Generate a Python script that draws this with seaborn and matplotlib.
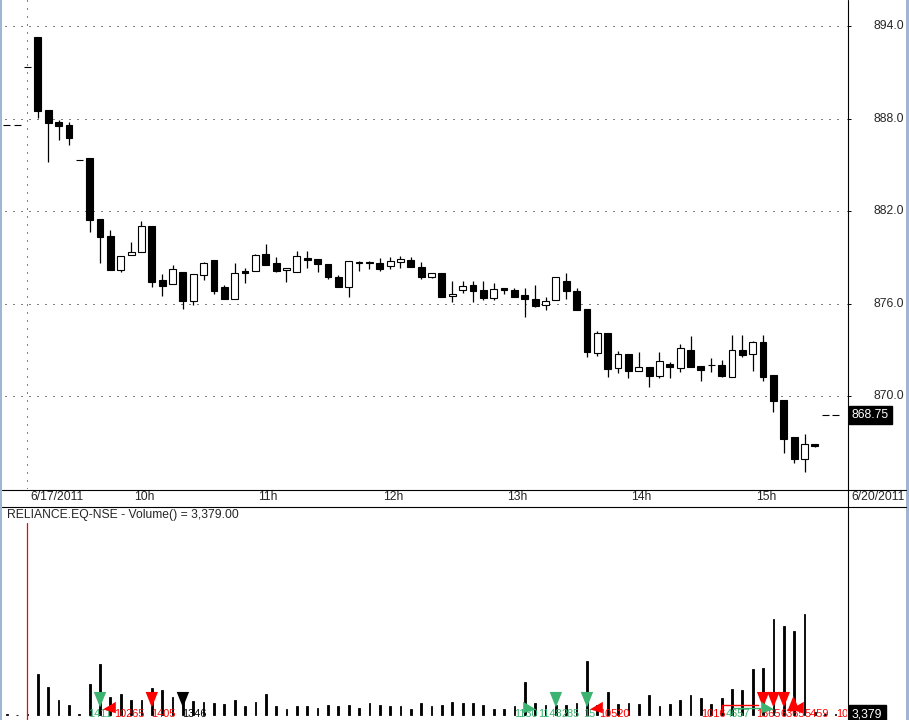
import matplotlib
matplotlib.use("Agg")
import matplotlib.pyplot as plt
import matplotlib.transforms as mtransforms
from matplotlib.lines import Line2D
from matplotlib.patches import Rectangle
import pandas as pd
import seaborn as sns

# 5-minute bars of RELIANCE.EQ-NSE, session 6/17/2011 (bar 0 = first bar of the day)
bar_idx = list(range(-2, 79))
opens = [887.58, 887.58, 891.34, 893.29, 888.55, 887.77, 887.58, 885.31, 885.44, 881.48,
         880.38, 878.17, 879.15, 879.34, 881.03, 877.53, 877.27, 878.04, 876.16, 877.85,
         878.82, 877.07, 876.29, 878.11, 878.11, 879.21, 878.63, 878.17, 878.04, 878.95,
         878.89, 878.56, 877.72, 877.07, 878.63, 878.63, 878.63, 878.43, 878.69, 878.82,
         878.37, 877.72, 877.98, 876.49, 876.88, 877.20, 876.88, 876.36, 877.01, 876.88,
         876.55, 876.29, 875.90, 876.23, 877.46, 876.81, 875.64, 872.79, 874.09, 871.82,
         872.73, 871.62, 871.88, 871.30, 872.08, 871.82, 872.99, 871.95, 872.01, 872.01,
         871.23, 872.99, 872.73, 873.50, 871.36, 869.74, 867.34, 865.92, 866.89, 868.75,
         868.75]
highs = [887.58, 887.58, 891.34, 893.29, 888.55, 887.90, 887.77, 885.31, 885.44, 881.48,
         880.77, 879.08, 879.99, 881.35, 881.03, 877.91, 878.50, 878.04, 877.91, 878.69,
         878.82, 877.20, 878.63, 878.30, 879.21, 879.86, 879.02, 878.30, 879.41, 879.41,
         878.89, 878.56, 877.85, 878.76, 878.76, 878.76, 878.95, 879.02, 879.08, 879.02,
         878.69, 877.98, 877.98, 877.46, 877.46, 877.46, 877.46, 877.33, 877.01, 877.01,
         877.01, 877.20, 876.42, 877.72, 877.98, 877.01, 875.64, 874.22, 874.09, 872.92,
         872.73, 872.86, 871.88, 872.86, 872.21, 873.37, 873.89, 871.95, 872.47, 872.34,
         873.96, 873.96, 873.57, 873.96, 871.36, 869.74, 867.34, 867.54, 866.89, 868.75,
         868.75]
lows = [887.58, 887.58, 891.34, 888.03, 885.18, 886.61, 886.28, 885.31, 880.64, 878.63,
        878.17, 878.04, 879.15, 879.34, 877.07, 876.49, 877.27, 875.64, 875.90, 877.53,
        876.62, 876.29, 876.29, 877.33, 878.11, 878.50, 878.04, 877.40, 878.04, 878.30,
        878.04, 877.59, 877.07, 876.42, 878.11, 878.24, 878.11, 878.24, 878.30, 878.37,
        877.59, 877.65, 876.42, 876.10, 876.68, 876.10, 876.23, 876.23, 876.62, 876.42,
        875.13, 875.77, 875.58, 876.23, 876.29, 875.58, 872.53, 872.60, 871.23, 871.49,
        871.17, 871.62, 870.59, 871.17, 871.17, 871.56, 871.88, 870.97, 871.56, 871.23,
        871.23, 872.53, 871.62, 870.97, 868.96, 866.30, 865.66, 865.07, 866.69, 868.75,
        868.75]
closes = [887.58, 887.58, 891.34, 888.49, 887.71, 887.51, 886.74, 885.31, 881.42, 880.31,
          878.17, 879.08, 879.34, 881.03, 877.40, 877.14, 878.24, 876.16, 877.91, 878.63,
          876.81, 876.29, 877.98, 877.98, 879.15, 878.50, 878.11, 878.30, 879.08, 878.82,
          878.56, 877.72, 877.07, 878.76, 878.63, 878.63, 878.24, 878.76, 878.89, 878.37,
          877.72, 877.98, 876.42, 876.62, 877.14, 876.81, 876.36, 876.94, 876.88, 876.42,
          876.29, 875.84, 876.16, 877.72, 876.81, 875.58, 872.86, 874.09, 871.75, 872.73,
          871.62, 871.88, 871.30, 872.27, 871.88, 873.12, 871.88, 871.69, 872.01, 871.30,
          872.99, 872.66, 873.50, 871.23, 869.68, 867.21, 865.92, 866.89, 866.76, 868.75,
          868.75]
volumes = [3000, 0, 3500, 139000, 95000, 51000, 34000, 3000, 105000, 173000,
           61000, 71000, 51000, 51000, 92000, 85000, 61000, 48000, 48000, 44000,
           41000, 37000, 51000, 31000, 44000, 71000, 31000, 20000, 31000, 31000,
           24000, 34000, 31000, 34000, 24000, 41000, 34000, 31000, 31000, 20000,
           41000, 31000, 34000, 44000, 41000, 41000, 34000, 20000, 20000, 31000,
           112000, 41000, 34000, 34000, 34000, 41000, 184000, 34000, 78000, 37000,
           41000, 37000, 68000, 31000, 37000, 51000, 68000, 58000, 37000, 58000,
           88000, 85000, 156000, 160000, 326000, 303000, 286000, 343000, 10000, 2500,
           3379]

symbol = "RELIANCE.EQ-NSE"
next_date = "6/20/2011"
time_tick_idx = [0, 10, 22, 34, 46, 58, 70]
time_tick_labels = ["6/17/2011", "10h", "11h", "12h", "13h", "14h", "15h"]
price_ticks = [894.0, 888.0, 882.0, 876.0, 870.0]

# trade signals drawn at the foot of the volume pane
GREEN, RED = "#3cb371", "#ff0000"
down_idx = [7, 12, 15, 51, 54, 71, 72, 73]
down_col = [GREEN, RED, "black", GREEN, GREEN, RED, RED, RED]
left_idx = [8.0, 55.0, 74.4]
right_idx = [48.3, 71.3]
up_idx = [73.9]
sig_text = ["1411", "10265", "1405", "1346", "1130", "1148", "285", "15", "10520",
            "1016", "4657", "1365", "6365", "5459", "10"]
sig_text_idx = [5.9, 8.4, 11.9, 14.9, 47.0, 49.3, 51.5, 53.6, 55.2,
                65.0, 67.4, 70.3, 72.65, 75.0, 78.1]
sig_text_col = [GREEN, RED, RED, "black", GREEN, GREEN, GREEN, GREEN, RED,
                RED, GREEN, RED, RED, RED, RED]
trade_x0 = [67.0, 68.1]
trade_x1 = [70.5, 70.7]
trade_col = [RED, GREEN]

bars = pd.DataFrame({"bar": bar_idx, "open": opens, "high": highs,
                     "low": lows, "close": closes, "volume": volumes})

sns.set_style("white")
plt.rcParams["font.family"] = ["Liberation Sans", "DejaVu Sans"]

W, H = 909, 720
fig = plt.figure(figsize=(W / 100, H / 100), dpi=100)
fig.patch.set_facecolor("white")

# pixel layout
X0, X1 = 2, 847
ax_price = fig.add_axes([X0 / W, 1 - 489 / H, (X1 - X0) / W, 489 / H])
ax_vol = fig.add_axes([X0 / W, 0, (X1 - X0) / W, (720 - 506) / H])

xlim = (-2.46, 79.10)
FS = 8.7
SFS = 7.9

# ---- price pane -------------------------------------------------------
for p in price_ticks:
    ax_price.axhline(p, xmin=0.004, xmax=0.997, color="black", lw=0.72,
                     ls=(0, (1, 7)), zorder=1)
ax_price.axvline(-0.05, color="black", lw=0.72, ls=(0, (1, 7)), zorder=1)

ax_price.vlines(bars["bar"], bars["low"], bars["high"], color="black", lw=0.9, zorder=2)
body_bottom = bars[["open", "close"]].min(axis=1)
body_height = (bars["close"] - bars["open"]).abs().clip(lower=0.03)
body_color = ["black" if c < o else "white" for o, c in zip(bars["open"], bars["close"])]
flat = (bars["high"] - bars["low"]) < 0.01
body_color = ["black" if f else c for f, c in zip(flat, body_color)]
ax_price.bar(bars["bar"], body_height, bottom=body_bottom, width=0.66,
             color=body_color, edgecolor="black", linewidth=0.8, zorder=3)

ax_price.set_xlim(*xlim)
ax_price.set_ylim(863.968, 895.687)
for s in ax_price.spines.values():
    s.set_visible(False)
ax_price.set_xticks(time_tick_idx)
ax_price.set_yticks(price_ticks)
ax_price.tick_params(axis="x", length=4.3, width=0.72, direction="out",
                     labelbottom=False, color="black")
ax_price.tick_params(axis="y", left=False, right=True, labelleft=False,
                     labelright=False, length=2.9, width=0.72, direction="out",
                     color="black")
ax_price.set_xlabel("")
ax_price.set_ylabel("")

xtrans = mtransforms.blended_transform_factory(ax_price.transData, ax_price.transAxes)
xlab_trans = mtransforms.offset_copy(xtrans, fig=fig, x=3, y=0, units="dots")
for t, lab in zip(time_tick_idx, time_tick_labels):
    ax_price.text(t, (489 - 497) / 489, lab, transform=xlab_trans, ha="left",
                  va="center", fontsize=FS, clip_on=False)

ytrans = mtransforms.blended_transform_factory(ax_price.transAxes, ax_price.transData)
ylab_trans = mtransforms.offset_copy(ytrans, fig=fig, x=57, y=0, units="dots")
for p in price_ticks:
    ax_price.text(1.0, p, f"{p:.1f}", transform=ylab_trans, ha="right",
                  va="center", fontsize=FS, clip_on=False)
box_trans = mtransforms.offset_copy(ytrans, fig=fig, x=5, y=0, units="dots")
ax_price.text(1.0, closes[-1], f"{closes[-1]:.2f}", transform=box_trans, ha="left",
              va="center", fontsize=FS, color="white", clip_on=False,
              bbox=dict(facecolor="black", edgecolor="black", pad=2.2))

# ---- volume pane ------------------------------------------------------
sns.barplot(data=bars, x="bar", y="volume", native_scale=True, width=0.17,
            color="black", saturation=1, errorbar=None, ax=ax_vol,
            edgecolor="black", linewidth=0.6, zorder=2)
ax_vol.axvline(-0.05, ymin=0, ymax=(720 - 523) / (720 - 506), color="red", lw=0.9)

ax_vol.scatter(down_idx, [52000] * len(down_idx), c=down_col, s=125,
               marker=[(-0.8, 1), (0.8, 1), (0, -1)], linewidths=0, zorder=4)
ax_vol.scatter(left_idx, [27000] * len(left_idx), c=RED, s=120,
               marker=[(-1, -0.25), (0.7, 0.75), (0.7, -0.75)], linewidths=0, zorder=4)
ax_vol.scatter(right_idx, [27000] * len(right_idx), c=GREEN, s=120,
               marker=[(1, -0.25), (-0.7, 0.75), (-0.7, -0.75)], linewidths=0, zorder=4)
ax_vol.scatter(up_idx, [40000] * len(up_idx), c=RED, s=125,
               marker=[(-0.8, -1), (0.8, -1), (0, 1)], linewidths=0, zorder=4)
for a, b, c in zip(trade_x0, trade_x1, trade_col):
    lvl = 34000 if c == RED else 24000
    ax_vol.plot([a, b], [lvl, lvl], color=c, lw=1.0, zorder=3)
ax_vol.plot([trade_x0[0], trade_x0[0]], [34000, 10000], color=RED, lw=1.0, zorder=3)
for t, lab, c in zip(sig_text_idx, sig_text, sig_text_col):
    ax_vol.text(t, 22000, lab, color=c, fontsize=SFS, ha="left", va="top",
                zorder=3, clip_on=True)

ax_vol.set_xlim(*xlim)
ax_vol.set_ylim(-17000, 710600)
for s in ax_vol.spines.values():
    s.set_visible(False)
ax_vol.set_xticks([])
ax_vol.set_yticks([])
ax_vol.set_xlabel("")
ax_vol.set_ylabel("")

vtrans = mtransforms.blended_transform_factory(ax_vol.transAxes, ax_vol.transData)
vbox_trans = mtransforms.offset_copy(vtrans, fig=fig, x=5, y=0, units="dots")
ax_vol.text(1.0, volumes[-1], f"{volumes[-1]:,}", transform=vbox_trans, ha="left",
            va="center", fontsize=FS, color="white", clip_on=False,
            bbox=dict(facecolor="black", edgecolor="black", pad=2.2))

fig.text(7 / W, 1 - 515 / H, f"{symbol} - Volume() = {volumes[-1]:,.2f}",
         fontsize=FS, ha="left", va="center")
fig.text(851 / W, 1 - 497 / H, next_date, fontsize=FS, ha="left", va="center")

# ---- frame lines ------------------------------------------------------
for y in (489.5, 506.5):
    fig.add_artist(Line2D([2 / W, 906 / W], [1 - y / H] * 2, transform=fig.transFigure,
                          color="black", lw=0.8))
fig.add_artist(Line2D([847.5 / W] * 2, [0, 1], transform=fig.transFigure,
                      color="black", lw=0.8))
fig.add_artist(Rectangle((0, 0), 2 / W, 1, transform=fig.transFigure,
                         facecolor="#9fb6d3", edgecolor="none"))
fig.add_artist(Rectangle((906 / W, 0), 3 / W, 1, transform=fig.transFigure,
                         facecolor="#9fb6d3", edgecolor="none"))

fig.savefig("out.png", dpi=100, facecolor="white")
